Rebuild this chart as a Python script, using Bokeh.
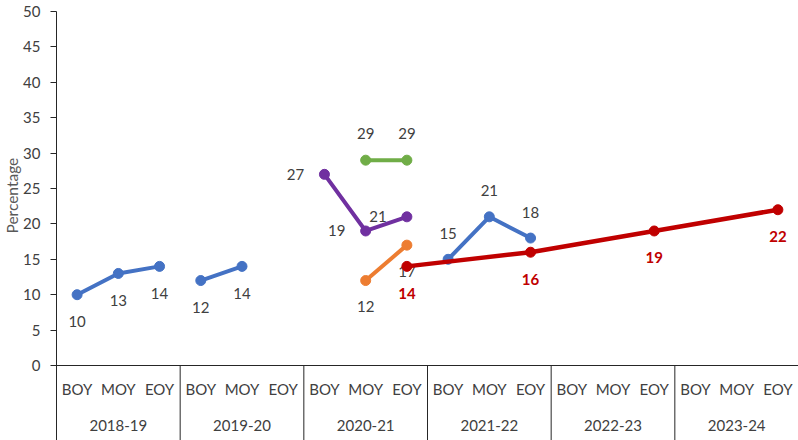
from bokeh.plotting import figure
from bokeh.models import Range1d, FactorRange, FixedTicker, Span, Title
from bokeh.core.properties import value
from bokeh.embed import file_html
from bokeh.resources import INLINE

# ---------------- data ----------------
years = ["2018-19", "2019-20", "2020-21", "2021-22", "2022-23", "2023-24"]
periods = ["BOY", "MOY", "EOY"]
y_ticks = [0, 5, 10, 15, 20, 25, 30, 35, 40, 45, 50]
y_title = "Percentage"

# one value per (year, period) slot; None = no data
blue_vals = [10, 13, 14, 12, 14, None, None, None, None, 15, 21, 18,
             None, None, None, None, None, None]
purple_vals = [None, None, None, None, None, None, 27, 19, 21,
               None, None, None, None, None, None, None, None, None]
green_vals = [None, None, None, None, None, None, None, 29, 29,
              None, None, None, None, None, None, None, None, None]
orange_vals = [None, None, None, None, None, None, None, 12, 17,
               None, None, None, None, None, None, None, None, None]
red_vals = [None, None, None, None, None, None, None, None, 14,
            None, None, 16, None, None, 19, None, None, 22]

# ---------------- style ----------------
FONT = "Lato"
TXT = "#404040"
factors = [(y, q) for y in years for q in periods]

W, H = 798, 440
left_px = 56
top_px, zero_px, bottom_px = 11, 365, 440
px_per_unit = (zero_px - top_px) / 50.0
y_start = -(bottom_px - zero_px) / px_per_unit
row_period_y = -(388 - zero_px) / px_per_unit
row_year_y = -(425 - zero_px) / px_per_unit

p = figure(width=W, height=H,
           x_range=FactorRange(*factors, factor_padding=0, group_padding=0,
                               subgroup_padding=0, range_padding=0),
           y_range=Range1d(y_start, 50),
           output_backend="svg", toolbar_location=None,
           min_border_left=left_px, min_border_right=0,
           min_border_top=top_px, min_border_bottom=0)
p.xaxis.visible = False
p.xgrid.visible = False
p.ygrid.visible = False
p.outline_line_color = None
p.background_fill_color = "white"
p.border_fill_color = "white"

ya = p.yaxis[0]
ya.ticker = FixedTicker(ticks=y_ticks)
ya.major_tick_in = 0
ya.major_tick_out = 6
ya.minor_tick_line_color = None
ya.axis_line_color = "#262626"
ya.major_tick_line_color = "#262626"
ya.major_label_text_font = FONT
ya.major_label_text_font_size = "15px"
ya.major_label_text_color = TXT
ya.major_label_standoff = 10

# y title: starts (bottom end) at 233px from the top of the chart
title_bottom_px = 233
p.add_layout(Title(text=y_title, align="left", offset=bottom_px - title_bottom_px,
                   text_font=FONT, text_font_size="15.5px", text_font_style="normal",
                   text_color="#595959", standoff=0), "left")

# x axis line and category table
p.add_layout(Span(location=0, dimension="width", line_color="#262626", line_width=1))
sep_x = [(y, periods[-1], 0.5) for y in years]
p.segment(x0=sep_x, y0=[y_start] * len(sep_x), x1=sep_x, y1=[0] * len(sep_x),
          line_color="#262626", line_width=1)
p.text(x=factors, y=[row_period_y] * len(factors), text=[f[1] for f in factors],
       text_align="center", text_baseline="middle", text_font=value(FONT),
       text_font_size="15px", text_color=TXT)
p.text(x=[(y, periods[1]) for y in years], y=[row_year_y] * len(years), text=years,
       text_align="center", text_baseline="middle", text_font=value(FONT),
       text_font_size="15px", text_color=TXT)


def draw(vals, color, width, break_years, label_offsets, label_color, bold=False):
    groups = []
    if break_years:
        for i, y in enumerate(years):
            pts = [(factors[3 * i + j], vals[3 * i + j]) for j in range(3)
                   if vals[3 * i + j] is not None]
            if pts:
                groups.append((y, pts))
    else:
        pts = [(f, v) for f, v in zip(factors, vals) if v is not None]
        groups.append((None, pts))
    for key, pts in groups:
        xs = [a for a, _ in pts]
        ys = [b for _, b in pts]
        p.line(xs, ys, line_color=color, line_width=width, line_cap="round")
        p.scatter(xs, ys, size=10, fill_color=color, line_color=color)
        dx, dy = label_offsets[key] if isinstance(label_offsets, dict) else label_offsets
        p.text(xs, ys, text=[str(v) for v in ys], x_offset=dx, y_offset=dy,
               text_align="center", text_baseline="middle", text_font=value(FONT),
               text_font_size="15px", text_color=label_color,
               text_font_style="bold" if bold else "normal")


draw(blue_vals, "#4472C4", 4, True,
     {"2018-19": (0, 27), "2019-20": (0, 27), "2021-22": (0, -26)}, TXT)
draw(purple_vals, "#7030A0", 4, True, {"2020-21": (-29, 0)}, TXT)
draw(green_vals, "#70AD47", 4, True, {"2020-21": (0, -27)}, TXT)
draw(orange_vals, "#ED7D31", 4, True, {"2020-21": (0, 26)}, TXT)
draw(red_vals, "#C00000", 4.5, False, (0, 27), "#C00000", bold=True)

open("out.html", "w").write(file_html(p, INLINE))
